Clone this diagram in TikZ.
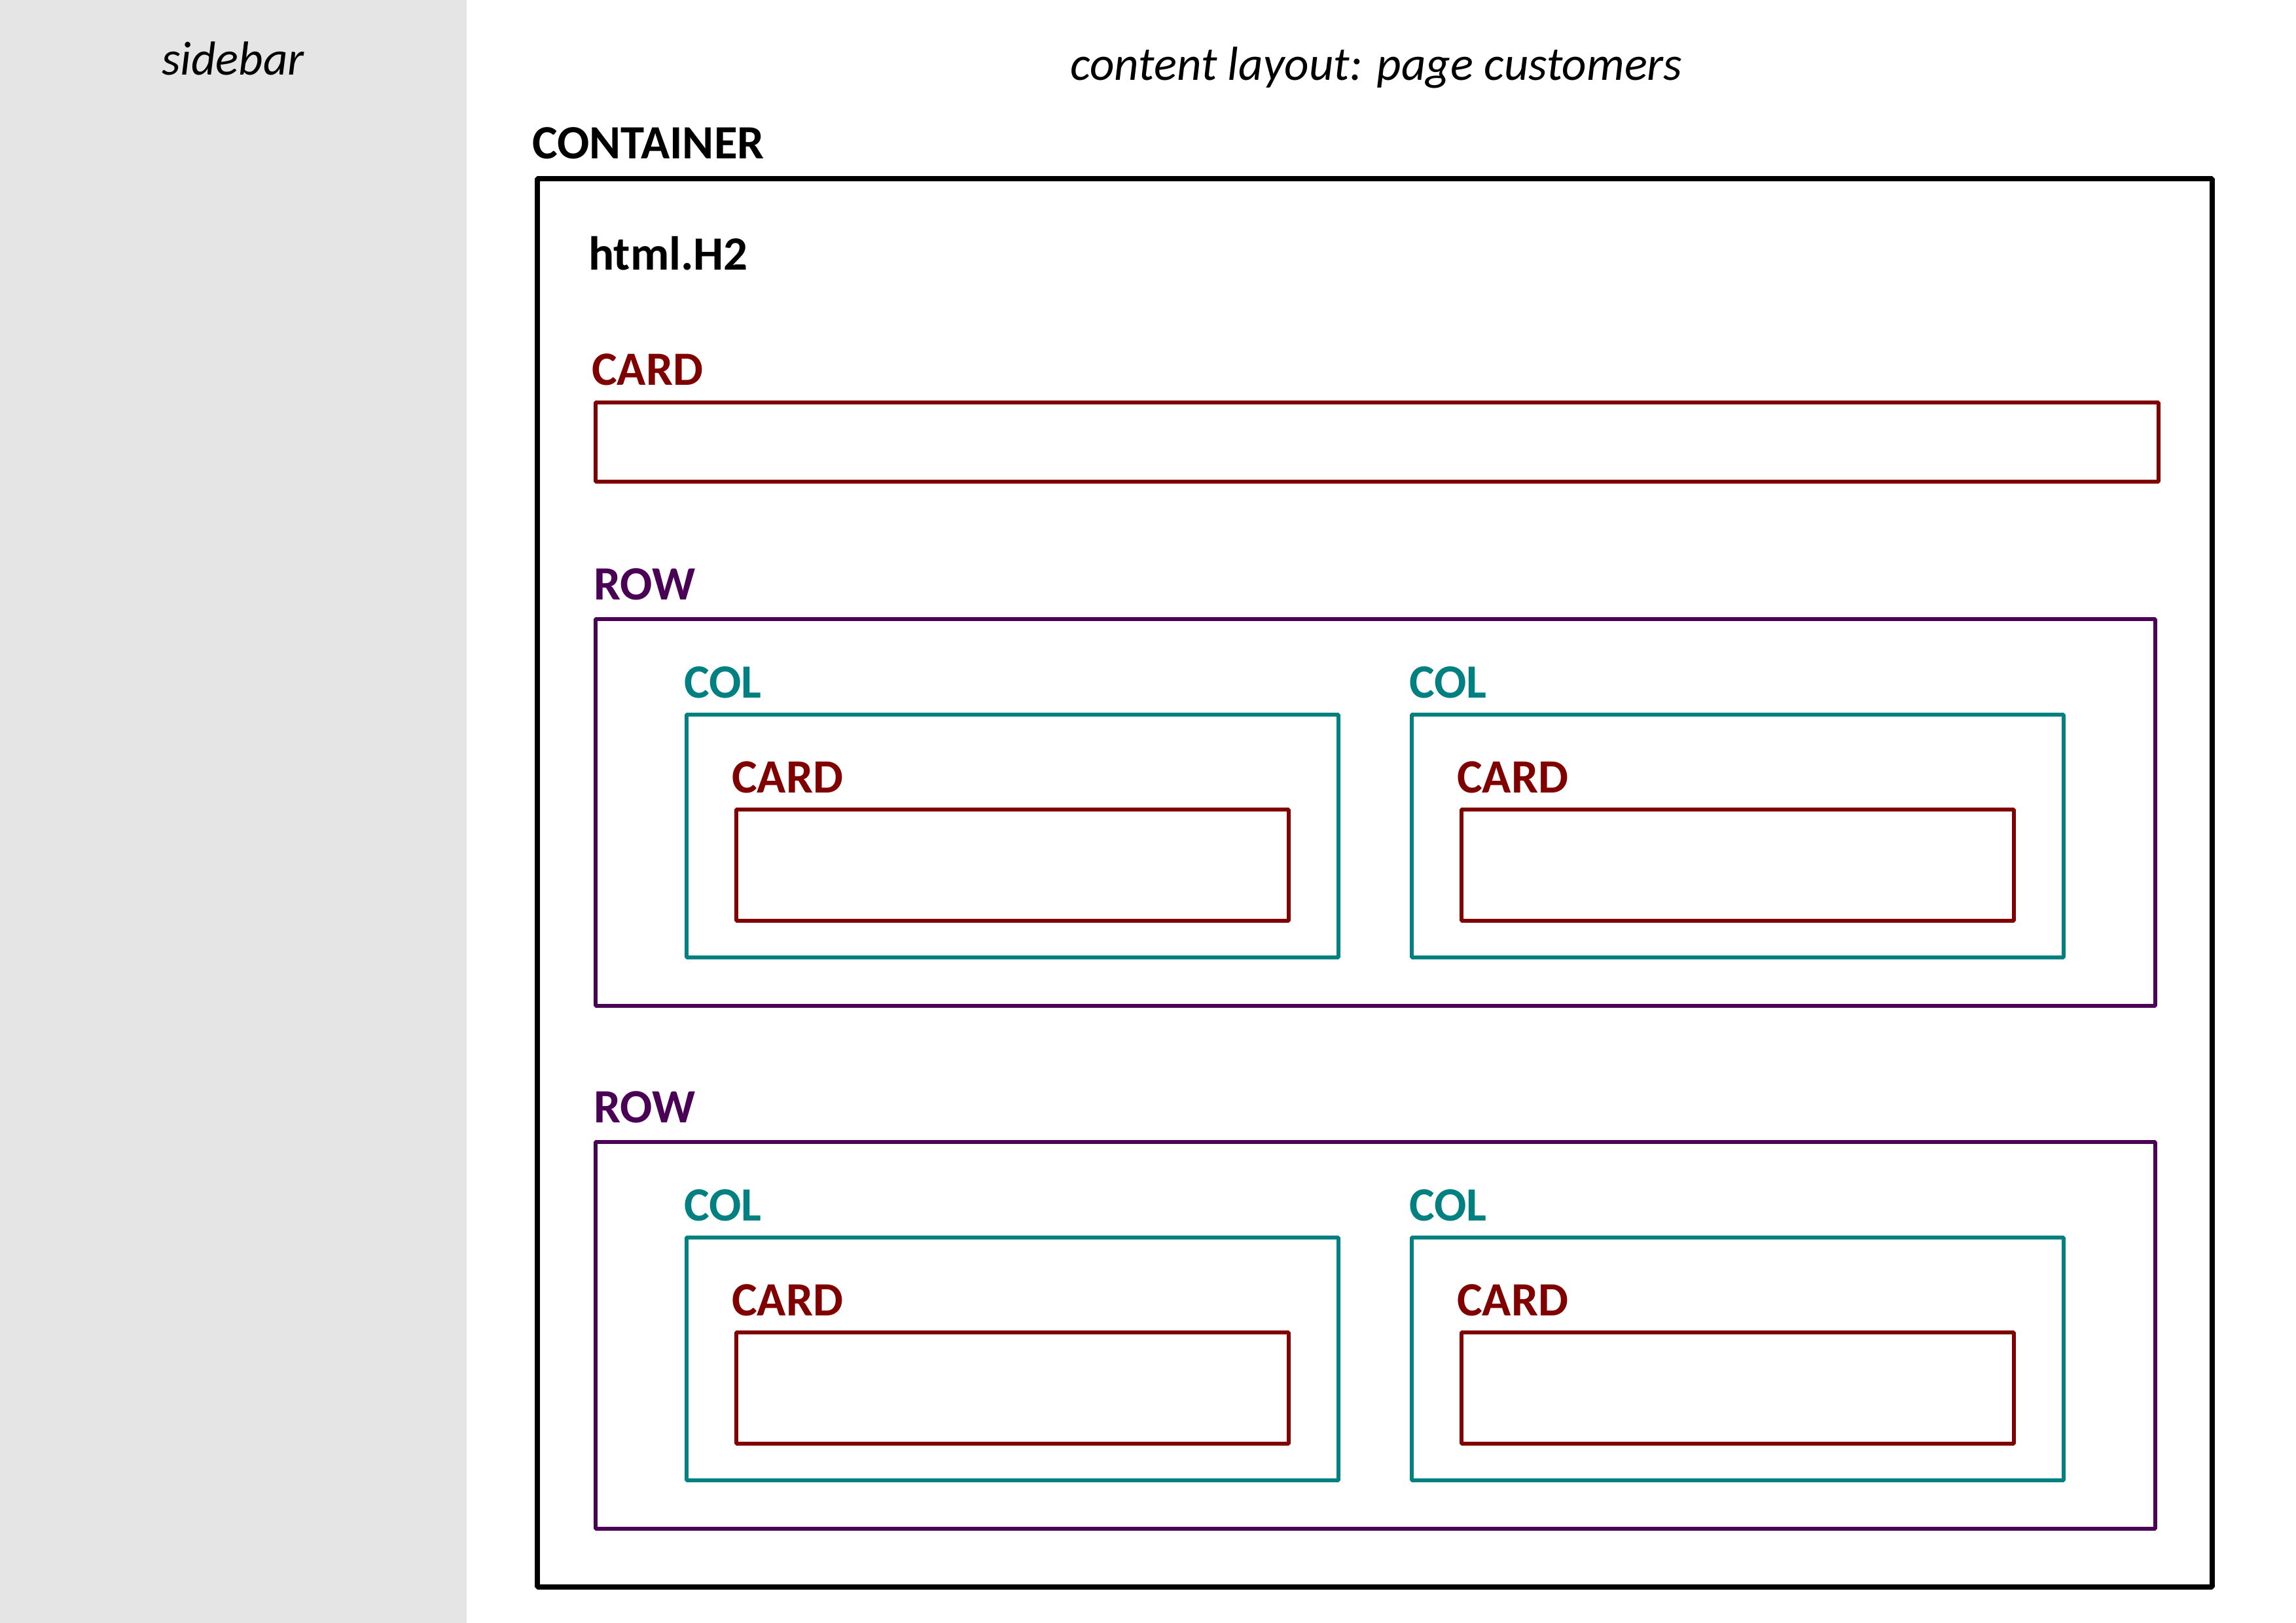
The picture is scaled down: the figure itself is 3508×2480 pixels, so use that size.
\documentclass[tikz,border=0pt]{standalone}
\usepackage{fontspec}
\setmainfont{Carlito}
\definecolor{cardred}{RGB}{128,0,0}
\definecolor{rowpurple}{RGB}{74,0,84}
\definecolor{colteal}{RGB}{0,128,128}
\definecolor{sidegray}{RGB}{229,229,229}
\begin{document}
\begin{tikzpicture}[x=1pt,y=-1pt,
  lbl/.style={anchor=base west,inner sep=0pt,font=\fontsize{73}{88}\selectfont\bfseries},
  ttl/.style={anchor=base,inner sep=0pt,font=\fontsize{73}{88}\selectfont\itshape},
  containerbox/.style={draw=black,line width=8.5pt,line join=bevel},
  rowbox/.style={draw=rowpurple,line width=6.5pt,line join=bevel},
  colbox/.style={draw=colteal,line width=6.5pt,line join=bevel},
  cardbox/.style={draw=cardred,line width=6.5pt,line join=bevel}]
\useasboundingbox (0,0) rectangle (3508,2480);
\fill[white] (0,0) rectangle (3508,2480);

% sidebar
\fill[sidegray] (0,0) rectangle (713,2480);
\node[ttl] (sidebartitle) at (356,115) {sidebar};

% content area
\node[ttl] (contenttitle) at (2103,123) {content layout: page customers};

\node[lbl] (containerlbl) at (813,243) {CONTAINER};
\draw[containerbox] (821,273) rectangle (3380,2425);

\node[lbl] (h2lbl) at (899,412) {html.H2};

% single card
\node[lbl,text=cardred] (card0lbl) at (904,588) {CARD};
\draw[cardbox] (910,615) rectangle (3298,736);

% two rows, each with two columns holding a card
\foreach \dy/\r in {0/1,799/2}{
  \node[lbl,text=rowpurple] (row\r lbl) at (907,916+\dy) {ROW};
  \draw[rowbox] (910,946+\dy) rectangle (3293,1537+\dy);
  \foreach \dx/\c in {0/a,1108/b}{
    \node[lbl,text=colteal] (col\r\c lbl) at (1045+\dx,1066+\dy) {COL};
    \draw[colbox] (1049+\dx,1092+\dy) rectangle (2045+\dx,1463+\dy);
    \node[lbl,text=cardred] (card\r\c lbl) at (1118+\dx,1211+\dy) {CARD};
    \draw[cardbox] (1125+\dx,1237+\dy) rectangle (1969+\dx,1407+\dy);
  }
}
\end{tikzpicture}
\end{document}
